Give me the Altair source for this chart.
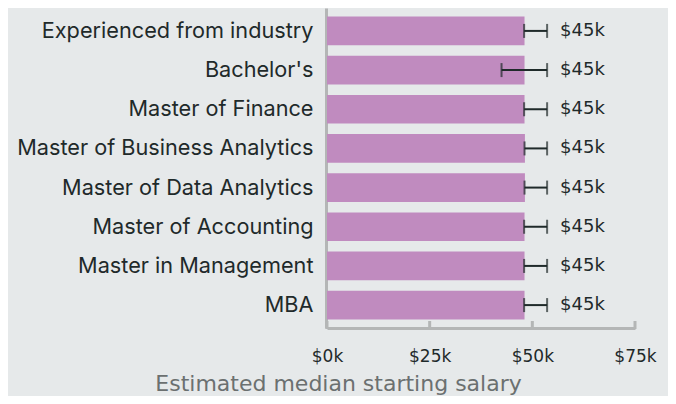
import altair as alt
import pandas as pd

programs = [
    "Experienced from industry",
    "Bachelor's",
    "Master of Finance",
    "Master of Business Analytics",
    "Master of Data Analytics",
    "Master of Accounting",
    "Master in Management",
    "MBA",
]
salary_k = [48.1, 48.1, 48.1, 48.2, 48.2, 48.1, 48.1, 48.1]
err_low_k = [48.0, 42.5, 48.0, 48.1, 48.1, 48.0, 48.0, 48.0]
err_high_k = [53.6, 53.6, 53.6, 53.6, 53.6, 53.6, 53.6, 53.6]
labels = ["$45k"] * 8
x_ticks = [0, 25, 50, 75]

df = pd.DataFrame({
    "program": programs,
    "salary": salary_k,
    "lo": err_low_k,
    "hi": err_high_k,
    "label": labels,
})
ticks_df = pd.DataFrame({"t": x_ticks})

W, H = 308, 320
BG = "#e6e9ea"
DARK = "#1f2a2a"
AXIS_GRAY = "#b4b6b6"
NUM_FONT = "DejaVu Sans"

y_scale = alt.Scale(domain=programs, paddingInner=0.27, paddingOuter=0.22)
x_scale = alt.Scale(domain=[0, 75], nice=False)

y_enc = alt.Y("program:N", scale=y_scale, sort=programs,
              axis=alt.Axis(title=None, ticks=False, labelPadding=13, offset=1,
                            labelFont="Inter", labelFontSize=21.7, labelColor=DARK,
                            domainColor=AXIS_GRAY, domainWidth=3, labelLimit=400))

bars = alt.Chart(df).mark_bar(color="#c08bbf").encode(
    x=alt.X("salary:Q", scale=x_scale,
            axis=alt.Axis(values=x_ticks, labelExpr="'$' + datum.value + 'k'",
                          ticks=False, grid=False, domainColor=AXIS_GRAY, domainWidth=3,
                          labelPadding=20, labelFont=NUM_FONT, labelFontSize=17,
                          labelFlush=False, labelColor=DARK,
                          title="Estimated median starting salary",
                          titleFont=NUM_FONT, titleFontSize=22, titleFontWeight="normal",
                          titleColor="#6b7070", titleX=11, titleY=62,
                          titleAlign="center", titleBaseline="alphabetic")),
    y=y_enc,
)

err_line = alt.Chart(df).mark_rule(color=DARK, strokeWidth=2).encode(
    x="lo:Q", x2="hi:Q", y=alt.Y("program:N", sort=programs))

cap_lo = alt.Chart(df).mark_tick(color=DARK, thickness=2, size=14, orient="vertical").encode(
    x="lo:Q", y=alt.Y("program:N", sort=programs))
cap_hi = alt.Chart(df).mark_tick(color=DARK, thickness=2, size=14, orient="vertical").encode(
    x="hi:Q", y=alt.Y("program:N", sort=programs))

text = alt.Chart(df).mark_text(align="left", dx=13, font=NUM_FONT, fontSize=18,
                               color=DARK).encode(
    x="hi:Q", y=alt.Y("program:N", sort=programs), text="label:N")

tick_marks = alt.Chart(ticks_df).mark_rule(color=AXIS_GRAY, strokeWidth=3).encode(
    x=alt.X("t:Q"), y=alt.value(H - 7), y2=alt.value(H + 1))

chart = alt.layer(bars, err_line, cap_lo, cap_hi, text, tick_marks).properties(
    width=W, height=H,
    autosize=alt.AutoSizeParams(type="none"),
    padding={"left": 319, "top": 0, "right": 33, "bottom": 68},
    background=BG,
).configure_view(stroke=None)

chart.save("out.html", embed_options={"renderer": "svg", "actions": False})
